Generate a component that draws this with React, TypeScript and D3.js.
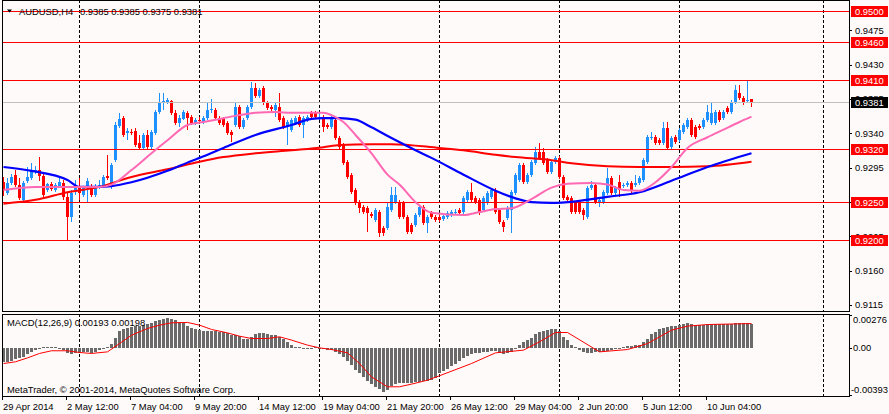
import React, { useEffect, useRef } from 'react';
import * as d3 from 'd3';

// AUDUSD H4 candles, 29 Apr - 10 Jun 2014
const opens = [
  0.9276, 0.9262, 0.9275, 0.9286, 0.9273, 0.9253, 0.9278, 0.9282, 0.9290, 0.9292,
  0.9284, 0.9266, 0.9274, 0.9266, 0.9271, 0.9275, 0.9257, 0.9231, 0.9263, 0.9271,
  0.9259, 0.9269, 0.9271, 0.9259, 0.9270, 0.9271, 0.9284, 0.9270, 0.9305, 0.9350,
  0.9360, 0.9341, 0.9342, 0.9343, 0.9328, 0.9321, 0.9338, 0.9322, 0.9341, 0.9368,
  0.9381, 0.9381, 0.9382, 0.9367, 0.9354, 0.9359, 0.9367, 0.9362, 0.9354, 0.9358,
  0.9355, 0.9360, 0.9371, 0.9371, 0.9360, 0.9359, 0.9354, 0.9342, 0.9351, 0.9375,
  0.9348, 0.9360, 0.9375, 0.9399, 0.9389, 0.9399, 0.9380, 0.9375, 0.9371, 0.9375,
  0.9360, 0.9348, 0.9345, 0.9354, 0.9362, 0.9351, 0.9358, 0.9367, 0.9367, 0.9362,
  0.9362, 0.9351, 0.9348, 0.9358, 0.9334, 0.9325, 0.9303, 0.9286, 0.9266, 0.9250,
  0.9244, 0.9242, 0.9234, 0.9227, 0.9237, 0.9216, 0.9216, 0.9240, 0.9250, 0.9250,
  0.9249, 0.9231, 0.9220, 0.9220, 0.9233, 0.9244, 0.9223, 0.9236, 0.9231, 0.9231,
  0.9228, 0.9231, 0.9233, 0.9236, 0.9240, 0.9237, 0.9253, 0.9263, 0.9255, 0.9253,
  0.9240, 0.9249, 0.9257, 0.9266, 0.9240, 0.9224, 0.9229, 0.9240, 0.9262, 0.9279,
  0.9299, 0.9276, 0.9286, 0.9301, 0.9316, 0.9316, 0.9305, 0.9290, 0.9303, 0.9308,
  0.9283, 0.9257, 0.9255, 0.9249, 0.9249, 0.9240, 0.9231, 0.9269, 0.9273, 0.9250,
  0.9250, 0.9262, 0.9282, 0.9262, 0.9276, 0.9271, 0.9273, 0.9275, 0.9273, 0.9275,
  0.9279, 0.9303, 0.9334, 0.9335, 0.9331, 0.9328, 0.9347, 0.9322, 0.9335, 0.9331,
  0.9342, 0.9348, 0.9358, 0.9348, 0.9350, 0.9348, 0.9358, 0.9354, 0.9354, 0.9368,
  0.9360, 0.9373, 0.9368, 0.9381, 0.9393, 0.9386, 0.9384, 0.9385,
];
const highs = [
  0.9283, 0.9282, 0.9287, 0.9292, 0.9282, 0.9278, 0.9296, 0.9301, 0.9297, 0.9309,
  0.9287, 0.9275, 0.9276, 0.9275, 0.9282, 0.9279, 0.9262, 0.9266, 0.9279, 0.9282,
  0.9271, 0.9282, 0.9274, 0.9274, 0.9279, 0.9286, 0.9312, 0.9301, 0.9355, 0.9367,
  0.9363, 0.9347, 0.9346, 0.9347, 0.9338, 0.9341, 0.9345, 0.9345, 0.9371, 0.9393,
  0.9393, 0.9386, 0.9384, 0.9371, 0.9364, 0.9371, 0.9369, 0.9364, 0.9360, 0.9362,
  0.9363, 0.9380, 0.9385, 0.9373, 0.9363, 0.9362, 0.9356, 0.9345, 0.9381, 0.9377,
  0.9360, 0.9377, 0.9407, 0.9406, 0.9399, 0.9402, 0.9382, 0.9377, 0.9380, 0.9393,
  0.9363, 0.9358, 0.9360, 0.9363, 0.9364, 0.9363, 0.9364, 0.9369, 0.9369, 0.9367,
  0.9364, 0.9354, 0.9363, 0.9360, 0.9337, 0.9328, 0.9305, 0.9288, 0.9269, 0.9253,
  0.9246, 0.9245, 0.9237, 0.9242, 0.9240, 0.9219, 0.9249, 0.9270, 0.9270, 0.9253,
  0.9251, 0.9233, 0.9223, 0.9236, 0.9246, 0.9246, 0.9233, 0.9238, 0.9233, 0.9234,
  0.9234, 0.9238, 0.9240, 0.9241, 0.9242, 0.9258, 0.9266, 0.9275, 0.9258, 0.9255,
  0.9258, 0.9265, 0.9269, 0.9269, 0.9242, 0.9227, 0.9245, 0.9266, 0.9288, 0.9301,
  0.9301, 0.9288, 0.9305, 0.9322, 0.9328, 0.9321, 0.9308, 0.9305, 0.9310, 0.9310,
  0.9286, 0.9259, 0.9258, 0.9251, 0.9251, 0.9242, 0.9271, 0.9278, 0.9275, 0.9255,
  0.9266, 0.9295, 0.9284, 0.9271, 0.9286, 0.9275, 0.9278, 0.9278, 0.9286, 0.9284,
  0.9308, 0.9338, 0.9342, 0.9338, 0.9334, 0.9355, 0.9355, 0.9337, 0.9338, 0.9347,
  0.9354, 0.9360, 0.9360, 0.9351, 0.9352, 0.9360, 0.9377, 0.9381, 0.9371, 0.9371,
  0.9371, 0.9376, 0.9384, 0.9403, 0.9403, 0.9389, 0.9410, 0.9385,
];
const lows = [
  0.9258, 0.9259, 0.9273, 0.9270, 0.9253, 0.9250, 0.9275, 0.9279, 0.9287, 0.9278,
  0.9257, 0.9263, 0.9265, 0.9263, 0.9269, 0.9253, 0.9199, 0.9224, 0.9259, 0.9253,
  0.9257, 0.9249, 0.9257, 0.9257, 0.9267, 0.9269, 0.9279, 0.9267, 0.9303, 0.9347,
  0.9335, 0.9331, 0.9338, 0.9322, 0.9318, 0.9318, 0.9320, 0.9320, 0.9338, 0.9365,
  0.9371, 0.9378, 0.9364, 0.9351, 0.9348, 0.9358, 0.9345, 0.9351, 0.9351, 0.9352,
  0.9352, 0.9358, 0.9367, 0.9358, 0.9351, 0.9348, 0.9338, 0.9329, 0.9348, 0.9346,
  0.9346, 0.9358, 0.9372, 0.9386, 0.9386, 0.9377, 0.9371, 0.9369, 0.9362, 0.9355,
  0.9346, 0.9325, 0.9342, 0.9351, 0.9348, 0.9334, 0.9355, 0.9359, 0.9359, 0.9358,
  0.9342, 0.9346, 0.9346, 0.9331, 0.9320, 0.9299, 0.9280, 0.9261, 0.9246, 0.9236,
  0.9234, 0.9211, 0.9229, 0.9224, 0.9204, 0.9206, 0.9214, 0.9237, 0.9248, 0.9228,
  0.9228, 0.9208, 0.9208, 0.9218, 0.9231, 0.9220, 0.9210, 0.9228, 0.9224, 0.9224,
  0.9225, 0.9228, 0.9231, 0.9233, 0.9233, 0.9234, 0.9250, 0.9250, 0.9248, 0.9233,
  0.9237, 0.9246, 0.9254, 0.9234, 0.9221, 0.9211, 0.9227, 0.9210, 0.9259, 0.9276,
  0.9274, 0.9274, 0.9283, 0.9299, 0.9305, 0.9299, 0.9287, 0.9287, 0.9300, 0.9280,
  0.9253, 0.9250, 0.9234, 0.9234, 0.9234, 0.9227, 0.9228, 0.9266, 0.9248, 0.9244,
  0.9248, 0.9259, 0.9259, 0.9259, 0.9257, 0.9269, 0.9270, 0.9262, 0.9270, 0.9273,
  0.9276, 0.9300, 0.9331, 0.9325, 0.9325, 0.9325, 0.9318, 0.9320, 0.9326, 0.9329,
  0.9339, 0.9346, 0.9335, 0.9333, 0.9345, 0.9346, 0.9355, 0.9351, 0.9351, 0.9355,
  0.9358, 0.9365, 0.9365, 0.9378, 0.9384, 0.9377, 0.9380, 0.9375,
];
const closes = [
  0.9266, 0.9275, 0.9283, 0.9273, 0.9255, 0.9275, 0.9283, 0.9292, 0.9292, 0.9284,
  0.9259, 0.9274, 0.9267, 0.9273, 0.9276, 0.9257, 0.9231, 0.9262, 0.9271, 0.9262,
  0.9269, 0.9278, 0.9259, 0.9271, 0.9273, 0.9283, 0.9282, 0.9299, 0.9351, 0.9359,
  0.9338, 0.9343, 0.9341, 0.9325, 0.9321, 0.9338, 0.9322, 0.9342, 0.9368, 0.9381,
  0.9382, 0.9384, 0.9367, 0.9354, 0.9360, 0.9368, 0.9360, 0.9354, 0.9358, 0.9356,
  0.9360, 0.9371, 0.9372, 0.9360, 0.9354, 0.9351, 0.9341, 0.9338, 0.9375, 0.9348,
  0.9358, 0.9375, 0.9399, 0.9389, 0.9397, 0.9380, 0.9373, 0.9372, 0.9377, 0.9358,
  0.9348, 0.9355, 0.9358, 0.9360, 0.9351, 0.9360, 0.9362, 0.9362, 0.9362, 0.9362,
  0.9348, 0.9348, 0.9360, 0.9334, 0.9322, 0.9301, 0.9283, 0.9263, 0.9249, 0.9242,
  0.9237, 0.9236, 0.9232, 0.9240, 0.9210, 0.9210, 0.9244, 0.9259, 0.9259, 0.9231,
  0.9231, 0.9211, 0.9211, 0.9233, 0.9244, 0.9223, 0.9231, 0.9231, 0.9227, 0.9227,
  0.9232, 0.9236, 0.9237, 0.9237, 0.9236, 0.9255, 0.9263, 0.9253, 0.9250, 0.9236,
  0.9255, 0.9262, 0.9266, 0.9237, 0.9224, 0.9218, 0.9242, 0.9263, 0.9286, 0.9299,
  0.9276, 0.9286, 0.9303, 0.9316, 0.9308, 0.9301, 0.9290, 0.9303, 0.9308, 0.9283,
  0.9255, 0.9253, 0.9237, 0.9237, 0.9237, 0.9233, 0.9269, 0.9273, 0.9250, 0.9253,
  0.9263, 0.9282, 0.9262, 0.9269, 0.9266, 0.9273, 0.9275, 0.9265, 0.9275, 0.9282,
  0.9305, 0.9335, 0.9335, 0.9328, 0.9328, 0.9347, 0.9321, 0.9334, 0.9329, 0.9345,
  0.9351, 0.9358, 0.9338, 0.9335, 0.9347, 0.9358, 0.9368, 0.9367, 0.9368, 0.9358,
  0.9368, 0.9368, 0.9381, 0.9397, 0.9386, 0.9380, 0.9384, 0.9381,
];

// moving averages, read at a few bar indexes
const pinkBars = [0, 8, 16, 24, 27, 32, 37, 41, 46, 50, 55, 59, 63, 68, 72, 80, 82, 85, 88, 92, 96, 99, 103, 107, 115, 119, 123, 127, 132, 137, 141, 147, 151, 155, 159, 163, 167, 171, 176, 180, 184, 187];
const pinkVals = [0.9266, 0.9270, 0.9270, 0.9270, 0.9273, 0.9292, 0.9314, 0.9331, 0.9351, 0.9355, 0.9360, 0.9364, 0.9367, 0.9368, 0.9367, 0.9367, 0.9364, 0.9355, 0.9338, 0.9314, 0.9286, 0.9273, 0.9250, 0.9236, 0.9233, 0.9237, 0.9241, 0.9242, 0.9254, 0.9269, 0.9274, 0.9275, 0.9273, 0.9266, 0.9265, 0.9276, 0.9296, 0.9321, 0.9335, 0.9345, 0.9355, 0.9362];
const blueBars = [0, 7, 16, 19, 24, 27, 32, 41, 47, 49, 55, 63, 72, 77, 80, 84, 88, 92, 97, 103, 107, 115, 123, 128, 132, 137, 143, 151, 159, 167, 176, 187];
const blueVals = [0.9296, 0.9291, 0.9279, 0.9270, 0.9270, 0.9271, 0.9276, 0.9291, 0.9304, 0.9308, 0.9321, 0.9338, 0.9351, 0.9359, 0.9360, 0.9360, 0.9358, 0.9348, 0.9334, 0.9318, 0.9308, 0.9286, 0.9265, 0.9255, 0.9250, 0.9249, 0.9251, 0.9257, 0.9263, 0.9278, 0.9296, 0.9314];
const redBars = [0, 8, 16, 24, 32, 41, 49, 55, 63, 72, 80, 84, 92, 97, 109, 115, 123, 128, 137, 142, 151, 159, 167, 176, 187];
const redVals = [0.9248, 0.9253, 0.9263, 0.9270, 0.9283, 0.9293, 0.9303, 0.9309, 0.9314, 0.9318, 0.9322, 0.9325, 0.9326, 0.9326, 0.9321, 0.9318, 0.9312, 0.9309, 0.9305, 0.9301, 0.9297, 0.9296, 0.9296, 0.9297, 0.9303];

// MACD(12,26,9): main histogram per bar, signal read at a few bars
const macdMain = [
  -0.00114, -0.00114, -0.00106, -0.00095, -0.00087, -0.00073, -0.00052, -0.00033, -0.00019, -0.00008,
  0.00003, 0.00008, 0.00008, 0.00003, -0.00003, -0.00014, -0.00041, -0.00054, -0.00046, -0.00041,
  -0.00038, -0.00038, -0.00041, -0.00033, -0.00019, -0.00005, 0.00008, 0.00035, 0.00084, 0.00139,
  0.00150, 0.00158, 0.00171, 0.00177, 0.00180, 0.00188, 0.00193, 0.00199, 0.00215, 0.00231,
  0.00237, 0.00242, 0.00234, 0.00226, 0.00212, 0.00199, 0.00177, 0.00158, 0.00150, 0.00144,
  0.00139, 0.00139, 0.00136, 0.00136, 0.00131, 0.00128, 0.00117, 0.00103, 0.00103, 0.00095,
  0.00076, 0.00076, 0.00090, 0.00112, 0.00117, 0.00117, 0.00112, 0.00103, 0.00101, 0.00090,
  0.00068, 0.00044, 0.00022, 0.00008, 0.00003, -0.00003, -0.00005, 0.00000, 0.00003, -0.00003,
  -0.00008, -0.00014, -0.00019, -0.00033, -0.00052, -0.00073, -0.00106, -0.00141, -0.00177, -0.00209,
  -0.00237, -0.00269, -0.00296, -0.00318, -0.00337, -0.00359, -0.00345, -0.00313, -0.00296, -0.00291,
  -0.00286, -0.00283, -0.00283, -0.00280, -0.00277, -0.00272, -0.00269, -0.00264, -0.00250, -0.00209,
  -0.00188, -0.00174, -0.00147, -0.00128, -0.00106, -0.00082, -0.00063, -0.00052, -0.00046, -0.00041,
  -0.00035, -0.00030, -0.00024, -0.00022, -0.00041, -0.00052, -0.00046, -0.00033, -0.00011, 0.00022,
  0.00046, 0.00063, 0.00079, 0.00112, 0.00128, 0.00139, 0.00147, 0.00150, 0.00155, 0.00139,
  0.00090, 0.00063, 0.00027, 0.00003, -0.00019, -0.00035, -0.00041, -0.00041, -0.00035, -0.00035,
  -0.00033, -0.00024, -0.00016, -0.00011, -0.00005, 0.00003, 0.00011, 0.00016, 0.00022, 0.00027,
  0.00046, 0.00076, 0.00109, 0.00131, 0.00150, 0.00158, 0.00171, 0.00177, 0.00182, 0.00188,
  0.00193, 0.00199, 0.00193, 0.00188, 0.00188, 0.00190, 0.00193, 0.00193, 0.00193, 0.00193,
  0.00193, 0.00193, 0.00193, 0.00199, 0.00204, 0.00201, 0.00199, 0.00193,
];
const signalBars = [0, 3, 6, 9, 12, 16, 19, 22, 26, 29, 32, 36, 39, 42, 46, 49, 52, 56, 59, 62, 66, 69, 72, 76, 79, 82, 86, 89, 92, 96, 99, 102, 106, 109, 117, 123, 130, 134, 138, 141, 149, 156, 161, 167, 171, 176, 187];
const signalVals = [-0.00128, -0.00114, -0.00082, -0.00046, -0.00024, -0.00024, -0.00038, -0.00046, -0.00033, 0.00035, 0.00103, 0.00158, 0.00185, 0.00204, 0.00207, 0.00185, 0.00150, 0.00122, 0.00095, 0.00076, 0.00076, 0.00090, 0.00063, 0.00022, 0, -0.00014, -0.00041, -0.00128, -0.00237, -0.00318, -0.00318, -0.00296, -0.00264, -0.00228, -0.00128, -0.00041, -0.00019, 0.00049, 0.00125, 0.00125, -0.00033, -0.00014, 0.00035, 0.00144, 0.00177, 0.00190, 0.00198];

// horizontal levels, bid, axis ticks
const levelPrices = [0.95, 0.946, 0.941, 0.932, 0.925, 0.92];
const bidPrice = 0.9381;
const priceTicks = [0.9475, 0.943, 0.9385, 0.934, 0.9295, 0.925, 0.9205, 0.916, 0.9115];
const macdTicks = [0.00276, 0, -0.00393];
const macdTickLabels = ['0.00276', '0.00', '-0.00393'];
const timeLabels = ['29 Apr 2014', '2 May 12:00', '7 May 04:00', '9 May 20:00', '14 May 12:00', '19 May 04:00', '21 May 20:00', '26 May 12:00', '29 May 04:00', '2 Jun 20:00', '5 Jun 12:00', '10 Jun 04:00'];
const timeLabelBars = [0, 16, 32, 48, 64, 80, 96, 112, 128, 144, 160, 176];
const gridBars = [19, 49, 79, 109, 139, 169, 205];

function App() {
  const ref = useRef<SVGSVGElement>(null);

  useEffect(() => {
    const svg = d3.select(ref.current as SVGSVGElement);
    svg.selectAll('*').remove();

    const W = 889, H = 414;
    const font = "'Liberation Sans', Arial, sans-serif";
    const fs = 9.4;
    const left = 2, right = 849;
    const mainTop = 0, mainBottom = 311;
    const subTop = 314, subBottom = 396;
    const bull = '#1e90ff', bear = '#ff0000';

    const x = d3.scaleLinear().domain([0, 205]).range([3.5, 823.5]);
    const y = d3.scaleLinear().domain([0.91074, 0.95148]).range([mainBottom, mainTop]);
    const ym = d3.scaleLinear().domain([-0.00393, 0.00276]).range([subBottom, subTop]);

    svg.append('rect').attr('width', W).attr('height', H).attr('fill', '#fffafa');

    const defs = svg.append('defs');
    defs.append('clipPath').attr('id', 'clipMain').append('rect')
      .attr('x', left).attr('y', mainTop).attr('width', right - left).attr('height', mainBottom - mainTop);
    defs.append('clipPath').attr('id', 'clipSub').append('rect')
      .attr('x', left).attr('y', subTop).attr('width', right - left).attr('height', subBottom - subTop);

    // dashed vertical grid in both panels
    const grid = svg.append('g').attr('shape-rendering', 'crispEdges');
    [[mainTop, mainBottom], [subTop, subBottom]].forEach(([a, b]) => {
      grid.selectAll(null).data(gridBars).enter().append('line')
        .attr('x1', d => x(d)).attr('x2', d => x(d))
        .attr('y1', a).attr('y2', b)
        .attr('stroke', '#000').attr('stroke-dasharray', '3,2');
    });

    // candles
    const bars = d3.range(closes.length);
    const colorOf = (i: number) => (closes[i] >= opens[i] ? bull : bear);
    const cg = svg.append('g').attr('clip-path', 'url(#clipMain)').attr('shape-rendering', 'crispEdges');
    cg.selectAll('line.wick').data(bars).enter().append('line')
      .attr('x1', i => x(i)).attr('x2', i => x(i))
      .attr('y1', i => y(highs[i])).attr('y2', i => y(lows[i]))
      .attr('stroke', colorOf);
    cg.selectAll('rect.body').data(bars).enter().append('rect')
      .attr('x', i => x(i) - 1.5).attr('width', 3)
      .attr('y', i => y(Math.max(opens[i], closes[i])))
      .attr('height', i => Math.max(1, Math.abs(y(opens[i]) - y(closes[i]))))
      .attr('fill', colorOf);

    // horizontal level lines and bid line
    const lg = svg.append('g').attr('shape-rendering', 'crispEdges');
    lg.append('line')
      .attr('x1', left).attr('x2', right)
      .attr('y1', Math.round(y(bidPrice)) + 0.5).attr('y2', Math.round(y(bidPrice)) + 0.5)
      .attr('stroke', '#c0c0c0');
    lg.selectAll(null).data(levelPrices).enter().append('line')
      .attr('x1', left).attr('x2', right)
      .attr('y1', d => Math.round(y(d)) + 0.5).attr('y2', d => Math.round(y(d)) + 0.5)
      .attr('stroke', '#ff0000');

    // moving averages
    const mg = svg.append('g').attr('clip-path', 'url(#clipMain)');
    const maLine = (idx: number[]) => d3.line<number>()
      .x((_, k) => x(idx[k]))
      .y(v => y(v))
      .curve(d3.curveMonotoneX);
    mg.append('path').attr('d', maLine(redBars)(redVals) as string)
      .attr('fill', 'none').attr('stroke', '#ff0000').attr('stroke-width', 2);
    mg.append('path').attr('d', maLine(blueBars)(blueVals) as string)
      .attr('fill', 'none').attr('stroke', '#0000ff').attr('stroke-width', 2.2);
    mg.append('path').attr('d', maLine(pinkBars)(pinkVals) as string)
      .attr('fill', 'none').attr('stroke', '#ff69b4').attr('stroke-width', 2);

    // MACD histogram + signal
    const sg = svg.append('g').attr('clip-path', 'url(#clipSub)');
    sg.append('g').attr('shape-rendering', 'crispEdges')
      .selectAll('rect').data(bars).enter().append('rect')
      .attr('x', i => x(i) - 1.5).attr('width', 3)
      .attr('y', i => Math.min(ym(0), ym(macdMain[i])))
      .attr('height', i => Math.max(1, Math.abs(ym(macdMain[i]) - ym(0))))
      .attr('fill', '#6a6a6a');
    sg.append('path')
      .attr('d', d3.line<number>().x((_, k) => x(signalBars[k])).y(v => ym(v))(signalVals) as string)
      .attr('fill', 'none').attr('stroke', '#ff0000').attr('stroke-width', 1);

    // frames
    const fg = svg.append('g').attr('shape-rendering', 'crispEdges').attr('fill', 'none').attr('stroke', '#000');
    fg.append('rect').attr('x', left + 0.5).attr('y', mainTop + 0.5).attr('width', right - left).attr('height', mainBottom - mainTop);
    fg.append('rect').attr('x', left + 0.5).attr('y', subTop + 0.5).attr('width', right - left).attr('height', subBottom - subTop);

    const txt = (g: d3.Selection<any, any, any, any>) =>
      g.attr('font-family', font).attr('font-size', fs);

    // price axis
    const ax = svg.append('g');
    ax.selectAll('line').data(priceTicks).enter().append('line')
      .attr('x1', right).attr('x2', right + 3)
      .attr('y1', d => Math.round(y(d)) + 0.5).attr('y2', d => Math.round(y(d)) + 0.5)
      .attr('stroke', '#000').attr('shape-rendering', 'crispEdges');
    txt(ax.selectAll('text').data(priceTicks).enter().append('text'))
      .attr('x', 855).attr('y', d => y(d)).attr('dy', '0.35em')
      .attr('fill', '#000').text(d => d.toFixed(4));

    const boxes = [...levelPrices.map(p => ({ p, bg: '#ff0000' })), { p: bidPrice, bg: '#000' }];
    const bx = svg.append('g');
    bx.selectAll('rect').data(boxes).enter().append('rect')
      .attr('x', 851).attr('width', 37)
      .attr('y', d => Math.round(y(d.p)) - 5).attr('height', 11)
      .attr('fill', d => d.bg);
    txt(bx.selectAll('text').data(boxes).enter().append('text'))
      .attr('x', 855).attr('y', d => Math.round(y(d.p)) + 0.5).attr('dy', '0.35em')
      .attr('fill', '#fff').text(d => d.p.toFixed(4));

    // MACD axis
    const mx = svg.append('g');
    mx.selectAll('line').data(macdTicks).enter().append('line')
      .attr('x1', right).attr('x2', right + 3)
      .attr('y1', d => Math.round(Math.min(subBottom - 1, Math.max(subTop + 1, ym(d)))) + 0.5)
      .attr('y2', d => Math.round(Math.min(subBottom - 1, Math.max(subTop + 1, ym(d)))) + 0.5)
      .attr('stroke', '#000').attr('shape-rendering', 'crispEdges');
    txt(mx.selectAll('text').data(macdTicks).enter().append('text'))
      .attr('x', (_, k) => (k === 2 ? 851 : 853))
      .attr('y', (d, k) => (k === 0 ? ym(d) + 6 : k === 2 ? ym(d) - 6 : ym(d)))
      .attr('dy', '0.35em').attr('fill', '#000')
      .text((_, k) => macdTickLabels[k]);

    // time axis
    const tx = svg.append('g');
    tx.selectAll('line').data(timeLabelBars).enter().append('line')
      .attr('x1', d => x(d) - 1).attr('x2', d => x(d) - 1)
      .attr('y1', subBottom).attr('y2', subBottom + 4)
      .attr('stroke', '#000').attr('shape-rendering', 'crispEdges');
    txt(tx.selectAll('text').data(timeLabelBars).enter().append('text'))
      .attr('x', d => x(d) - 0.5).attr('y', 409.5).attr('fill', '#000')
      .text((_, k) => timeLabels[k]);

    // headers
    svg.append('path').attr('d', 'M7,9.5 L12,9.5 L9.5,12.5 Z').attr('fill', '#000');
    txt(svg.append('text')).attr('x', 19).attr('y', 14.5).attr('fill', '#000').text('AUDUSD,H4');
    txt(svg.append('text')).attr('x', 80).attr('y', 14.5).attr('fill', '#000')
      .text([opens[187], highs[187], lows[187], closes[187]].map(v => v.toFixed(4)).join(' '));
    txt(svg.append('text')).attr('x', 7).attr('y', 326).attr('fill', '#000')
      .text(`MACD(12,26,9) ${macdMain[187].toFixed(5)} ${signalVals[signalVals.length - 1].toFixed(5)}`);
    txt(svg.append('text')).attr('x', 7).attr('y', 392.5).attr('fill', '#000')
      .text('MetaTrader, © 2001-2014, MetaQuotes Software Corp.');
  }, []);

  return (
    <svg ref={ref} width={889} height={414}
      style={{ position: 'absolute', left: 0, top: 0, display: 'block' }} />
  );
}

export default App;
